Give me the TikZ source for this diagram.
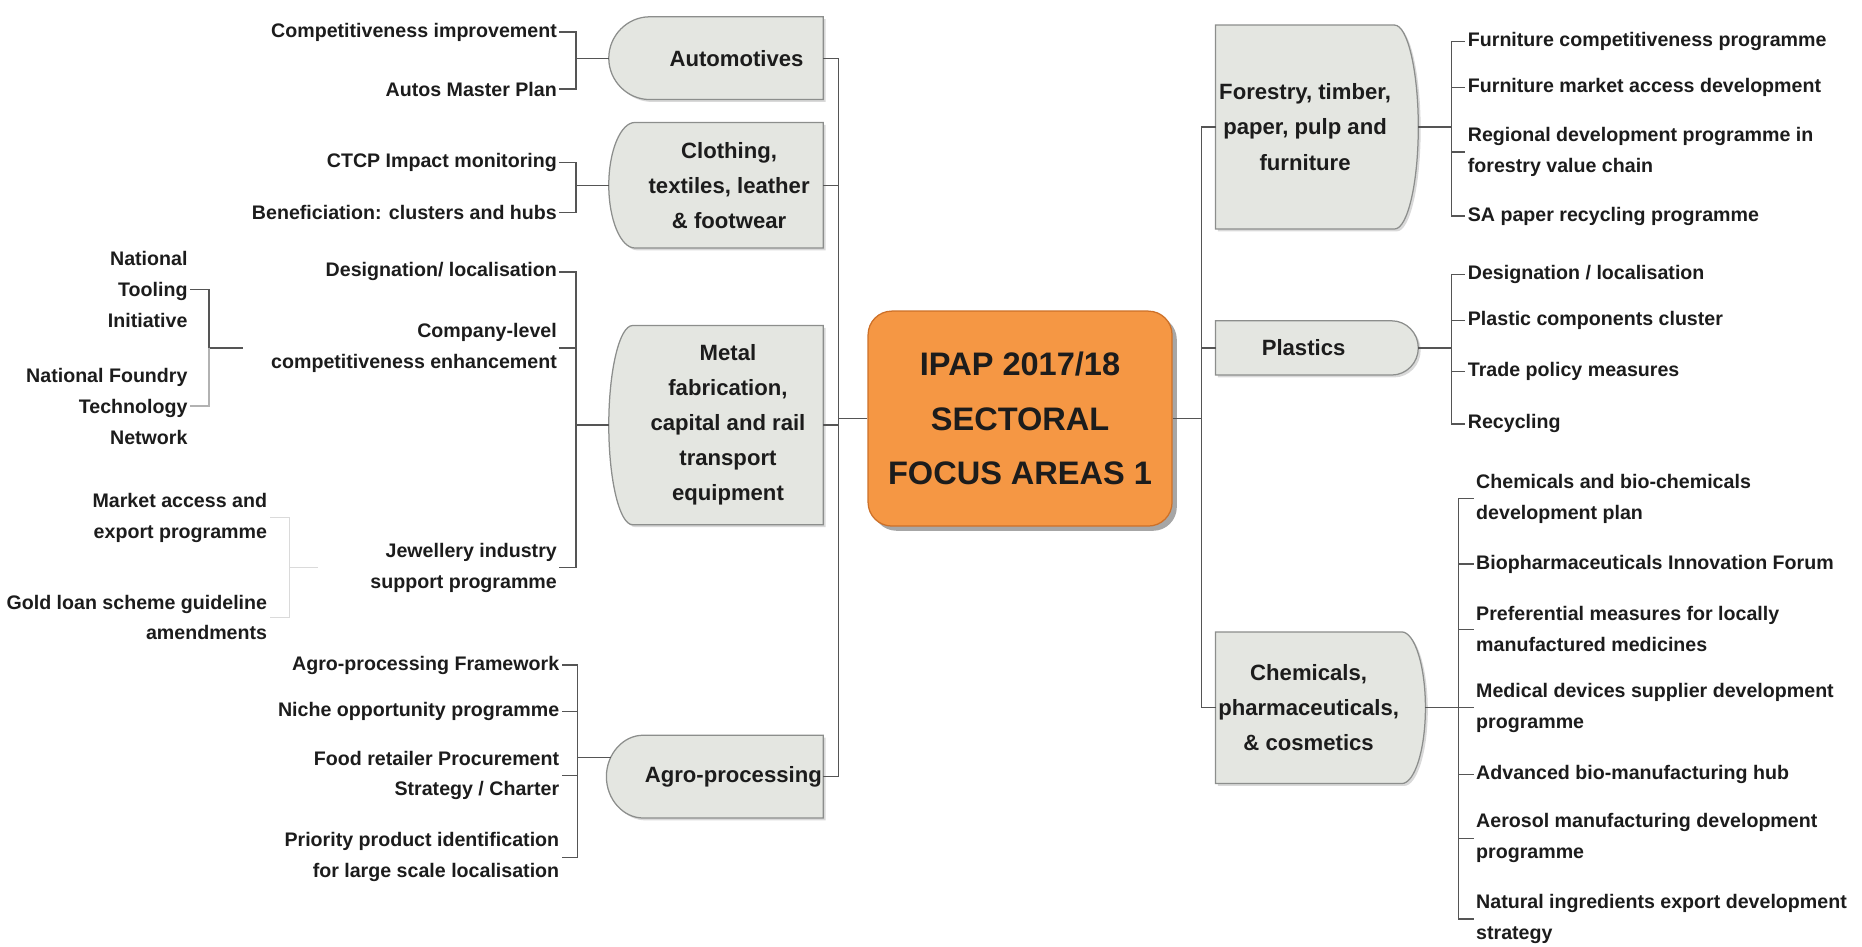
\documentclass[tikz,border=0pt]{standalone}
\usepackage{fontspec}
\setmainfont{Liberation Sans}
\usetikzlibrary{shadows,backgrounds}

\definecolor{hubfill}{RGB}{245,151,68}
\definecolor{hubline}{RGB}{205,112,40}
\definecolor{boxfill}{RGB}{228,230,225}
\definecolor{boxline}{RGB}{140,142,140}
\definecolor{wire}{RGB}{85,85,85}
\definecolor{ink}{RGB}{28,28,28}

\tikzset{
  hub/.style={rectangle, rounded corners=0.4cm, draw=hubline, fill=hubfill, line width=0.6pt,
    minimum width=5.12cm, minimum height=3.62cm, align=center, text=ink,
    font=\fontsize{15.6}{26}\selectfont\bfseries,
    drop shadow={shadow xshift=0.08cm, shadow yshift=-0.08cm, fill=black, opacity=0.35}},
  sector/.style={rectangle, inner sep=0pt, align=center, text=ink,
    font=\fontsize{10.6}{16.8}\selectfont\bfseries},
  boxshape/.style={draw=boxline, fill=boxfill, line width=0.6pt,
    drop shadow={shadow xshift=0.04cm, shadow yshift=-0.04cm, fill=black, opacity=0.15}},
  item/.style={inner sep=1pt, text=ink, font=\fontsize{9.4}{14.8}\selectfont\bfseries},
  litem/.style={item, anchor=east, align=right},
  ritem/.style={item, anchor=west, align=left},
  branch/.style={draw=wire, line width=0.6pt},
  faint/.style={draw=wire!22, line width=0.6pt}
}

\begin{document}
\begin{tikzpicture}
\useasboundingbox (0,0) rectangle (31.36,15.94);

%hub
\node[hub] (hub) at (17.18,8.89) {IPAP 2017/18\\SECTORAL\\FOCUS AREAS 1};
\coordinate (ls) at (14.12,8.89);
\coordinate (rs) at (20.24,8.89);
\draw[branch] (hub.west) -- (ls);
\draw[branch] (hub.east) -- (rs);

%left sectors
\node[sector, minimum width=2.91cm, minimum height=1.38cm] (auto) at (12.405,14.96) {Automotives};
\node[sector, minimum width=3.16cm, minimum height=2.10cm] (cloth) at (12.28,12.82) {Clothing,\\textiles, leather\\\& footwear};
\node[sector, minimum width=3.20cm, minimum height=3.34cm] (metal) at (12.26,8.78) {Metal\\fabrication,\\capital and rail\\transport\\equipment};
\node[sector, minimum width=3.02cm, minimum height=1.38cm] (agro) at (12.35,2.86) {Agro-processing};

%right sectors
\node[sector, minimum width=3.00cm, minimum height=3.42cm] (forest) at (21.98,13.80) {Forestry, timber,\\paper, pulp and\\furniture};
\node[sector, minimum width=2.95cm, minimum height=0.90cm] (plastic) at (21.955,10.08) {Plastics};
\node[sector, minimum width=3.12cm, minimum height=2.54cm] (chem) at (22.04,4.02) {Chemicals,\\pharmaceuticals,\\\& cosmetics};

%box outlines
\begin{pgfonlayer}{background}
\draw[boxshape] (auto.north east) -- (auto.north west) .. controls +(-0.38,0) and +(0,0.38) .. ([xshift=-0.69cm]auto.west) .. controls +(0,-0.38) and +(-0.38,0) .. (auto.south west) -- (auto.south east) -- cycle;
\draw[boxshape] (cloth.north east) -- (cloth.north west) .. controls +(-0.24,0) and +(0,0.58) .. ([xshift=-0.44cm]cloth.west) .. controls +(0,-0.58) and +(-0.24,0) .. (cloth.south west) -- (cloth.south east) -- cycle;
\draw[boxshape] (metal.north east) -- (metal.north west) .. controls +(-0.22,0) and +(0,0.92) .. ([xshift=-0.4cm]metal.west) .. controls +(0,-0.92) and +(-0.22,0) .. (metal.south west) -- (metal.south east) -- cycle;
\draw[boxshape] (agro.north east) -- (agro.north west) .. controls +(-0.34,0) and +(0,0.38) .. ([xshift=-0.62cm]agro.west) coordinate[pos=0.7] (agro-n) .. controls +(0,-0.38) and +(-0.34,0) .. (agro.south west) -- (agro.south east) -- cycle;
\draw[boxshape] (forest.north west) -- (forest.north east) .. controls +(0.22,0) and +(0,0.94) .. ([xshift=0.4cm]forest.east) .. controls +(0,-0.94) and +(0.22,0) .. (forest.south east) -- (forest.south west) -- cycle;
\draw[boxshape] (plastic.north west) -- (plastic.north east) .. controls +(0.25,0) and +(0,0.25) .. ([xshift=0.45cm]plastic.east) .. controls +(0,-0.25) and +(0.25,0) .. (plastic.south east) -- (plastic.south west) -- cycle;
\draw[boxshape] (chem.north west) -- (chem.north east) .. controls +(0.22,0) and +(0,0.70) .. ([xshift=0.4cm]chem.east) .. controls +(0,-0.70) and +(0.22,0) .. (chem.south east) -- (chem.south west) -- cycle;
\end{pgfonlayer}

\draw[branch] (ls) |- (auto.east);
\draw[branch] (ls) |- (cloth.east);
\draw[branch] (ls) |- (metal.east);
\draw[branch] (ls) |- (agro.east);
\draw[branch] (rs) |- (forest.west);
\draw[branch] (rs) |- (plastic.west);
\draw[branch] (rs) |- (chem.west);

%Automotives
\node[litem] (a1) at (9.42,15.40) {Competitiveness improvement};
\node[litem] (a2) at (9.42,14.44) {Autos Master Plan};
\coordinate (aj) at (9.70,14.96);
\draw[branch] (aj) -- ([xshift=-0.69cm]auto.west);
\draw[branch] (aj) |- (a1.east);
\draw[branch] (aj) |- (a2.east);

%Clothing
\node[litem] (c1) at (9.42,13.20) {CTCP Impact monitoring};
\node[litem] (c2) at (9.42,12.36) {Beneficiation: clusters and hubs};
\coordinate (cj) at (9.70,12.82);
\draw[branch] (cj) -- ([xshift=-0.44cm]cloth.west);
\draw[branch] (cj) |- (c1.east);
\draw[branch] (cj) |- (c2.east);

%Metal
\node[litem] (m1) at (9.42,11.36) {Designation/ localisation};
\node[litem] (m2) at (9.42,10.08) {Company-level\\competitiveness enhancement};
\node[litem] (m3) at (9.42,6.38) {Jewellery industry\\support programme};
\coordinate (mj) at (9.70,8.78);
\draw[branch] (mj) -- ([xshift=-0.4cm]metal.west);
\draw[branch] (mj) |- (m1.east);
\draw[branch] (mj) |- (m2.east);
\draw[branch] (mj) |- (m3.east);

%tooling and foundry
\node[litem] (t1) at (3.20,11.07) {National\\Tooling\\Initiative};
\node[litem] (t2) at (3.20,9.10) {National Foundry\\Technology\\Network};
\coordinate (tj) at (3.52,10.08);
\coordinate (te) at (4.10,10.08);
\draw[branch] (tj) -- (te);
\draw[branch] (tj) |- (t1.east);
\draw[branch, draw=wire!45] (tj) |- (t2.east);

%jewellery
\node[litem] (j1) at (4.54,7.22) {Market access and\\export programme};
\node[litem] (j2) at (4.54,5.54) {Gold loan scheme guideline\\amendments};
\coordinate (jj) at (4.88,6.38);
\coordinate (je) at (5.36,6.38);
\draw[faint] (jj) -- (je);
\draw[faint] (jj) |- (j1.east);
\draw[faint] (jj) |- (j2.east);

%Agro-processing
\node[litem] (g1) at (9.46,4.74) {Agro-processing Framework};
\node[litem] (g2) at (9.46,3.96) {Niche opportunity programme};
\node[litem] (g3) at (9.46,2.88) {Food retailer Procurement\\Strategy / Charter};
\node[litem] (g4) at (9.46,1.50) {Priority product identification\\for large scale localisation};
\coordinate (gj) at (9.72,0 |- agro-n);
\draw[branch] (gj) -- (agro-n);
\draw[branch] (gj) |- (g1.east);
\draw[branch] (gj) |- (g2.east);
\draw[branch] (gj) |- (g3.east);
\draw[branch] (gj) |- (g4.east);

%Forestry
\node[ritem] (f1) at (24.68,15.24) {Furniture competitiveness programme};
\node[ritem] (f2) at (24.68,14.46) {Furniture market access development};
\node[ritem] (f3) at (24.68,13.38) {Regional development programme in\\forestry value chain};
\node[ritem] (f4) at (24.68,12.30) {SA paper recycling programme};
\coordinate (fj) at (24.44,13.80);
\draw[branch] ([xshift=0.4cm]forest.east) -- (fj);
\draw[branch] (fj) |- (f1.west);
\draw[branch] (fj) |- (f2.west);
\draw[branch] (fj) |- (f3.west);
\draw[branch] (fj) |- (f4.west);

%Plastics
\node[ritem] (p1) at (24.68,11.32) {Designation / localisation};
\node[ritem] (p2) at (24.68,10.54) {Plastic components cluster};
\node[ritem] (p3) at (24.68,9.68) {Trade policy measures};
\node[ritem] (p4) at (24.68,8.80) {Recycling};
\coordinate (pj) at (24.44,10.08);
\draw[branch] ([xshift=0.45cm]plastic.east) -- (pj);
\draw[branch] (pj) |- (p1.west);
\draw[branch] (pj) |- (p2.west);
\draw[branch] (pj) |- (p3.west);
\draw[branch] (pj) |- (p4.west);

%Chemicals
\node[ritem] (k1) at (24.82,7.54) {Chemicals and bio-chemicals\\development plan};
\node[ritem] (k2) at (24.82,6.44) {Biopharmaceuticals Innovation Forum};
\node[ritem] (k3) at (24.82,5.34) {Preferential measures for locally\\manufactured medicines};
\node[ritem] (k4) at (24.82,4.02) {Medical devices supplier development\\programme};
\node[ritem] (k5) at (24.82,2.90) {Advanced bio-manufacturing hub};
\node[ritem] (k6) at (24.82,1.82) {Aerosol manufacturing development\\programme};
\node[ritem] (k7) at (24.82,0.46) {Natural ingredients export development\\strategy};
\coordinate (kj) at (24.56,4.02);
\draw[branch] ([xshift=0.4cm]chem.east) -- (kj);
\draw[branch] (kj) |- (k1.west);
\draw[branch] (kj) |- (k2.west);
\draw[branch] (kj) |- (k3.west);
\draw[branch] (kj) |- (k4.west);
\draw[branch] (kj) |- (k5.west);
\draw[branch] (kj) |- (k6.west);
\draw[branch] (kj) |- (k7.west);

\end{tikzpicture}
\end{document}
